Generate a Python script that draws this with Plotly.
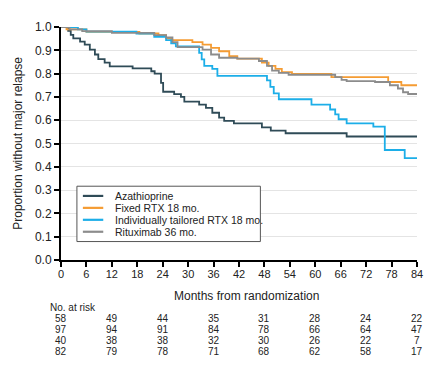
import plotly.graph_objects as go

# ---- data ----
aza_t = [0, 1.7, 2.3, 2.9, 4.5, 5.6, 6.8, 8.0, 8.8, 10.3, 11.5, 16.9, 21.3, 22.1, 23.6, 24.1,
         26.7, 28.3, 29.1, 32.6, 34.2, 35.7, 37.3, 38.5, 40.8, 47.4, 49.5, 53.0, 67.4, 84]
aza_s = [1.0, 0.983, 0.966, 0.951, 0.937, 0.924, 0.903, 0.882, 0.862, 0.847, 0.831, 0.822, 0.81, 0.80,
         0.76, 0.722, 0.712, 0.70, 0.68, 0.667, 0.653, 0.632, 0.611, 0.597, 0.586, 0.569, 0.555, 0.544,
         0.53, 0.53]

fix_t = [0, 1.3, 6.0, 18.5, 23.0, 24.8, 26.0, 31.0, 33.4, 35.4, 37.3, 39.7, 41.6, 47.4, 49.0, 50.6,
         52.1, 54.5, 63.8, 77.2, 80.3, 84]
fix_s = [1.0, 0.99, 0.979, 0.972, 0.965, 0.951, 0.944, 0.935, 0.924, 0.91, 0.896, 0.875, 0.864, 0.847,
         0.833, 0.82, 0.806, 0.799, 0.785, 0.764, 0.75, 0.75]

ind_t = [0, 4.0, 6.0, 17.8, 22.0, 24.8, 26.0, 27.1, 32.6, 33.2, 33.8, 35.7, 36.9, 48.6, 49.4, 50.2,
         51.4, 59.1, 63.5, 64.7, 65.5, 67.4, 73.7, 76.4, 81.1, 84]
ind_s = [1.0, 0.99, 0.98, 0.972, 0.958, 0.944, 0.93, 0.917, 0.889, 0.861, 0.833, 0.82, 0.79, 0.771,
         0.743, 0.715, 0.69, 0.667, 0.646, 0.625, 0.604, 0.586, 0.572, 0.472, 0.4375, 0.4375]

r36_t = [0, 2, 5, 12, 22, 24.8, 26.3, 27.5, 33.4, 35.4, 37.3, 41.6, 46.7, 48.6, 49.8, 51.4, 53.7,
         64.7, 66.2, 67.4, 74.1, 77.6, 79.5, 80.7, 81.9, 84]
r36_s = [1.0, 0.99, 0.982, 0.975, 0.965, 0.955, 0.935, 0.914, 0.903, 0.882, 0.868, 0.864, 0.854, 0.833,
         0.8125, 0.803, 0.795, 0.785, 0.773, 0.768, 0.764, 0.75, 0.736, 0.72, 0.7125, 0.7125]

series_names = ["Azathioprine", "Fixed RTX 18 mo.", "Individually tailored RTX 18 mo.", "Rituximab 36 mo."]
series_colors = ["#2f4b57", "#f59c33", "#1caee8", "#8c8c8c"]

x_ticks = [0, 6, 12, 18, 24, 30, 36, 42, 48, 54, 60, 66, 72, 78, 84]
y_ticks = [0.0, 0.1, 0.2, 0.3, 0.4, 0.5, 0.6, 0.7, 0.8, 0.9, 1.0]

risk_months = [0, 12, 24, 36, 48, 60, 72, 84]
risk_aza = [58, 49, 44, 35, 31, 28, 24, 22]
risk_fix = [97, 94, 91, 84, 78, 66, 64, 47]
risk_ind = [40, 38, 38, 32, 30, 26, 22, 7]
risk_r36 = [82, 79, 78, 71, 68, 62, 58, 17]

FONT = "Liberation Sans, Arial, sans-serif"
OFF = 8  # page body margin
W, H = 435 - OFF, 367 - OFF
# plot area in page pixels: x 61..419, y 20..260
PX0, PX1, PY0, PY1 = 61, 419, 20, 260
ML, MT = PX0 - OFF, PY0 - OFF
MR = W - (PX1 - OFF)
MB = H - (PY1 - OFF)
PW, PH = PX1 - PX0, PY1 - PY0


def px2paper_x(px):
    return (px - PX0) / PW


def px2paper_y(py):
    return (PY1 - py) / PH


fig = go.Figure()
for (t, s), name, col in zip([(aza_t, aza_s), (fix_t, fix_s), (ind_t, ind_s), (r36_t, r36_s)],
                             series_names, series_colors):
    fig.add_trace(go.Scatter(x=t, y=s, mode="lines", line=dict(shape="hv", color=col, width=1.8),
                             name=name, showlegend=False, cliponaxis=False))

fig.update_layout(
    width=W, height=H, autosize=False,
    margin=dict(l=ML, r=MR, t=MT, b=MB, pad=0),
    paper_bgcolor="white", plot_bgcolor="white",
    font=dict(family=FONT, color="#222222"),
    xaxis=dict(range=[0, 84], tickvals=x_ticks, ticktext=[str(v) for v in x_ticks],
               showgrid=False, zeroline=False, showline=True, linecolor="black", linewidth=2,
               ticks="outside", ticklen=5, tickwidth=1.5, tickcolor="black",
               ticklabelstandoff=-2,
               tickfont=dict(size=11, family=FONT, color="#222222")),
    yaxis=dict(range=[0, 1.0], tickvals=y_ticks, ticktext=["%.1f" % v for v in y_ticks],
               showgrid=True, gridcolor="#e4e4e4", gridwidth=1, zeroline=False,
               showline=True, linecolor="black", linewidth=2,
               ticks="outside", ticklen=5, tickwidth=1.5, tickcolor="black",
               tickfont=dict(size=12, family=FONT, color="#222222")),
    showlegend=False,
)

ann = []
# axis titles
ann.append(dict(text="Months from randomization", xref="paper", yref="paper",
                x=px2paper_x(247.5), y=px2paper_y(297), xanchor="center", yanchor="middle",
                showarrow=False, font=dict(size=12, family=FONT, color="#222222")))
ann.append(dict(text="Proportion without major relapse", xref="paper", yref="paper",
                x=px2paper_x(17), y=0.5, xanchor="center", yanchor="middle", textangle=-90,
                showarrow=False, font=dict(size=12, family=FONT, color="#222222")))
# risk table
ann.append(dict(text="No. at risk", xref="paper", yref="paper", x=px2paper_x(48), y=px2paper_y(309),
                xanchor="left", yanchor="middle", showarrow=False,
                font=dict(size=10, family=FONT, color="#222222")))
for row, vals in enumerate([risk_aza, risk_fix, risk_ind, risk_r36]):
    for m, v in zip(risk_months, vals):
        ann.append(dict(text=str(v), xref="x", yref="paper", x=m, y=px2paper_y(320.6 + 11.2 * row),
                        xanchor="center", yanchor="middle", showarrow=False,
                        font=dict(size=10, family=FONT, color="#222222")))

# legend (manual, to match compact spacing)
shapes = [dict(type="rect", xref="paper", yref="paper", x0=px2paper_x(77), x1=px2paper_x(261.5),
               y0=px2paper_y(241), y1=px2paper_y(184), line=dict(color="#555555", width=1),
               fillcolor="white", layer="above")]
for i, (name, col) in enumerate(zip(series_names, series_colors)):
    yy = px2paper_y(194 + 12.3 * i)
    shapes.append(dict(type="line", xref="paper", yref="paper", x0=px2paper_x(83), x1=px2paper_x(103.5),
                       y0=yy, y1=yy, line=dict(color=col, width=2.2), layer="above"))
    ann.append(dict(text=name, xref="paper", yref="paper", x=px2paper_x(113), y=yy,
                    xanchor="left", yanchor="middle", showarrow=False,
                    font=dict(size=10.5, family=FONT, color="#222222")))

fig.update_layout(annotations=ann, shapes=shapes)
fig.write_html("out.html")
